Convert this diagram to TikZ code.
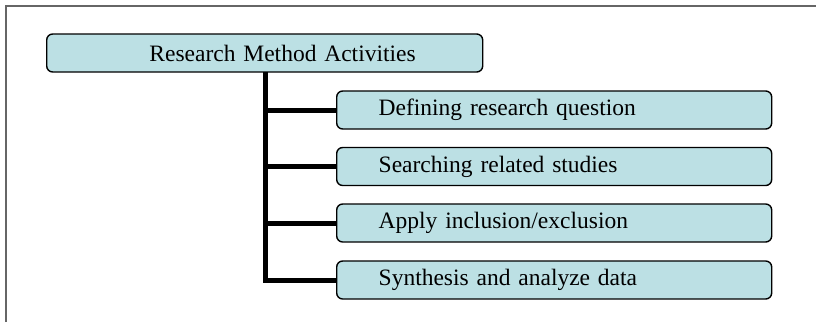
\documentclass[tikz,border=0pt]{standalone}
\usepackage{fontspec}
\setmainfont{Liberation Serif}
\usepackage{xcolor}
\usepackage{tikz}
\definecolor{boxcyan}{RGB}{188,224,228}
\tikzset{
  actbox/.style={draw=black, line width=1.4pt, fill=boxcyan, rounded corners=6pt,
    minimum height=38pt, inner ysep=0pt, anchor=west, font=\fontsize{23.5}{26}\selectfont},
  topbox/.style={actbox, inner xsep=67pt, text width=302pt, align=right},
  subbox/.style={actbox, inner xsep=42pt, text width=351pt, align=left},
  branch/.style={line width=5pt}
}

\begin{document}
\begin{tikzpicture}[x=1pt,y=-1pt]
    \useasboundingbox (0,0) rectangle (816,322);
    \draw[gray!80!black, line width=1.5pt] (6,322) -- (6,6) -- (816,6);

    \node[topbox] (top) at (46,53) {Research Method Activities};

    \node[subbox] (define) at (336,110) {Defining research question};
    \node[subbox] (search) at (336,166.5) {Searching related studies};
    \node[subbox] (apply) at (336,223) {Apply inclusion/exclusion};
    \node[subbox] (synth) at (336,280) {Synthesis and analyze data};

    \coordinate (trunk) at (265,72);
    \draw[branch] (trunk) |- (synth.west);
    \foreach \n in {define,search,apply}
      \draw[branch] (trunk |- \n.west) -- (\n.west);
  \end{tikzpicture}
\end{document}
